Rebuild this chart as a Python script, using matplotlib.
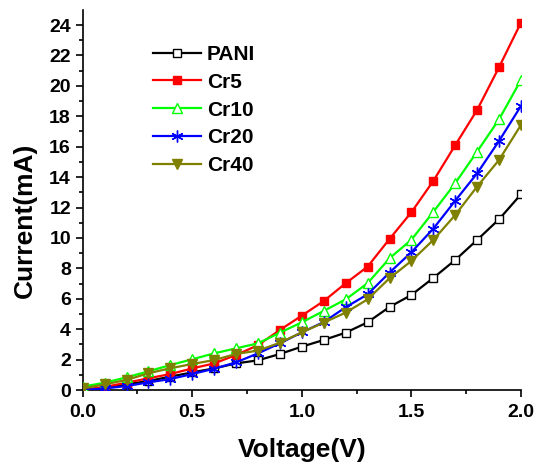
import matplotlib
matplotlib.use("Agg")
import matplotlib.pyplot as plt
import numpy as np

voltage = [0.0, 0.1, 0.2, 0.3, 0.4, 0.5, 0.6, 0.7, 0.8, 0.9, 1.0,
           1.1, 1.2, 1.3, 1.4, 1.5, 1.6, 1.7, 1.8, 1.9, 2.0]

pani = [0.0, 0.15, 0.37, 0.59, 0.88, 1.16, 1.42, 1.75, 1.95, 2.37, 2.85,
        3.29, 3.77, 4.45, 5.46, 6.25, 7.37, 8.55, 9.87, 11.23, 12.87]
cr5 = [0.0, 0.2, 0.48, 0.77, 1.05, 1.42, 1.75, 2.3, 2.95, 3.95, 4.89,
       5.85, 7.02, 8.11, 9.93, 11.69, 13.75, 16.1, 18.42, 21.23, 24.16]
cr10 = [0.22, 0.48, 0.83, 1.23, 1.64, 2.02, 2.41, 2.74, 3.07, 3.77, 4.45,
        5.2, 5.96, 7.02, 8.66, 9.88, 11.71, 13.6, 15.68, 17.8, 20.39]
cr20 = [0.0, 0.1, 0.26, 0.5, 0.72, 1.05, 1.4, 1.82, 2.41, 3.07, 3.79,
        4.47, 5.44, 6.29, 7.72, 9.06, 10.61, 12.45, 14.25, 16.38, 18.68]
cr40 = [0.1, 0.37, 0.66, 1.1, 1.43, 1.71, 1.97, 2.37, 2.59, 3.11, 3.79,
        4.43, 5.09, 5.96, 7.35, 8.49, 9.87, 11.51, 13.38, 15.13, 17.43]

labels = ["PANI", "Cr5", "Cr10", "Cr20", "Cr40"]
x_ticks = [0.0, 0.5, 1.0, 1.5, 2.0]
x_ticklabels = ["0.0", "0.5", "1.0", "1.5", "2.0"]
y_ticks = [0, 2, 4, 6, 8, 10, 12, 14, 16, 18, 20, 22, 24]

plt.rcParams['font.family'] = ['Liberation Sans', 'DejaVu Sans']
plt.rcParams['font.weight'] = 'bold'

fig = plt.figure(figsize=(5.37, 4.65), dpi=100)
ax = fig.add_axes([82.7/537, 1-390/465, (521-82.7)/537, (390-9.8)/465])

lw = 1.6
ax.plot(voltage, pani, color='black', lw=lw, marker='s', ms=5.5,
        mfc='white', mec='black', mew=1.0, label=labels[0], zorder=3)
ax.plot(voltage, cr5, color='#ff0000', lw=lw, marker='s', ms=5.8,
        mfc='#ff0000', mec='#ff0000', label=labels[1], zorder=3)
ax.plot(voltage, cr10, color='#00ff00', lw=lw, marker='^', ms=7.5,
        mfc='white', mec='#00ff00', mew=1.0, label=labels[2], zorder=3)
ax.plot(voltage, cr20, color='#0000ff', lw=lw, marker=(6, 2, 0), ms=8.5,
        mfc='#0000ff', mec='#0000ff', mew=1.0, label=labels[3], zorder=3)
ax.plot(voltage, cr40, color='#808000', lw=lw, marker='v', ms=7.5,
        mfc='#808000', mec='#808000', label=labels[4], zorder=3)

ax.set_xlim(0, 2.0)
ax.set_ylim(0, 25)
ax.set_xticks(x_ticks)
ax.set_xticklabels(x_ticklabels)
ax.set_yticks(y_ticks)
ax.set_xticks([0.25, 0.75, 1.25, 1.75], minor=True)
ax.set_yticks(np.arange(1, 25, 2), minor=True)

for s in ['top', 'right']:
    ax.spines[s].set_visible(False)
for s in ['left', 'bottom']:
    ax.spines[s].set_linewidth(1.2)

ax.tick_params(which='major', direction='out', length=5, width=1.2,
               labelsize=14, pad=3.5)
ax.tick_params(axis='x', which='major', pad=5)
ax.tick_params(which='minor', direction='out', length=3, width=1.2)
for t in ax.get_xticklabels() + ax.get_yticklabels():
    t.set_fontweight('bold')

ax.set_xlabel("Voltage(V)", fontsize=19, fontweight='bold')
ax.set_ylabel("Current(mA)", fontsize=19, fontweight='bold')
ax.xaxis.set_label_coords(0.5015, -0.126)
ax.yaxis.set_label_coords(-0.104, 0.445)

leg = ax.legend(loc='upper left', bbox_to_anchor=(152.7/537, 1-45/465),
                bbox_transform=fig.transFigure, frameon=False,
                borderpad=0, borderaxespad=0, handlelength=2.32,
                handletextpad=0.28, labelspacing=0.42, numpoints=1,
                prop={'size': 15, 'weight': 'bold'})

fig.savefig("out.png", dpi=100)
